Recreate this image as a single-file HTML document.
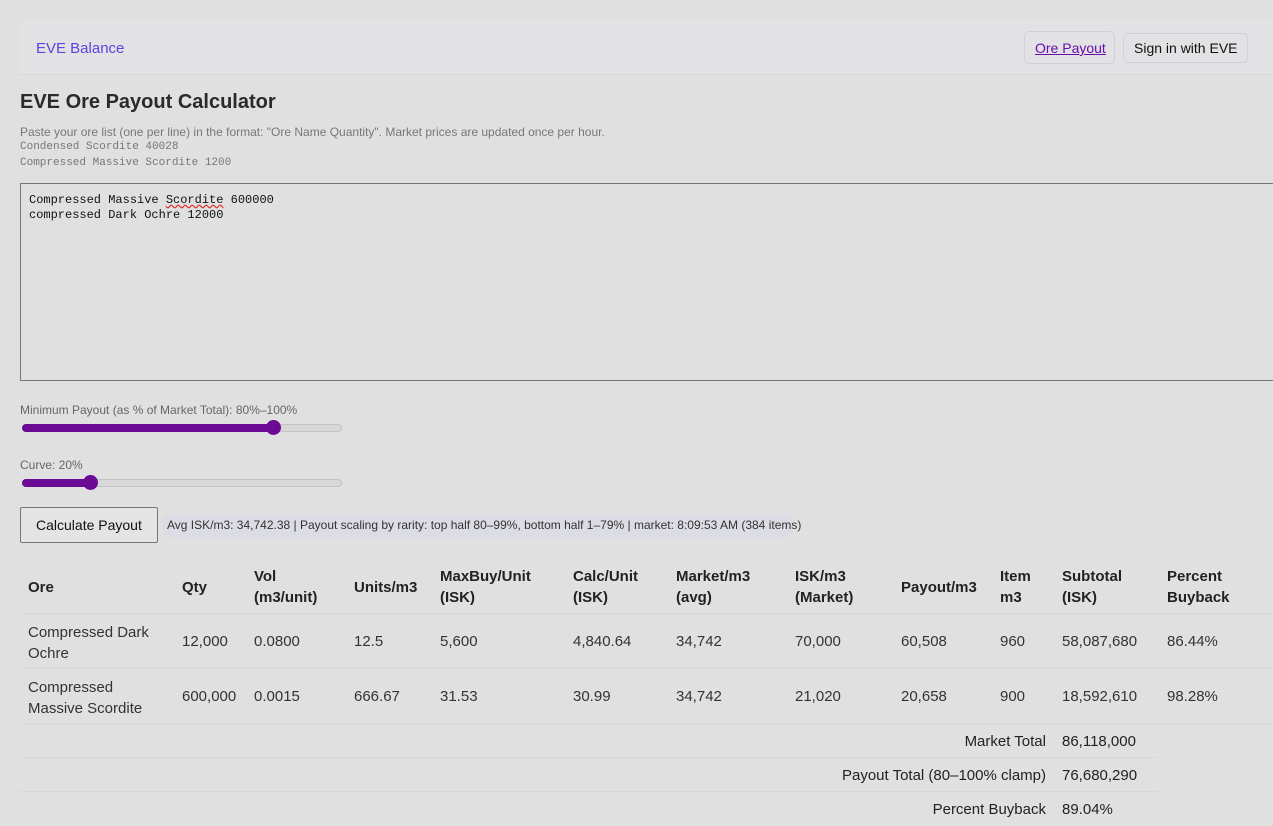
<!DOCTYPE html>
<html><head><meta charset="utf-8"><style>
*{margin:0;padding:0;box-sizing:border-box}
body{width:1273px;height:826px;background:#e0e0e0;font-family:"Liberation Sans",sans-serif;color:#222;position:relative;overflow:hidden}
.a{position:absolute;white-space:nowrap}
.nav{left:20px;top:20px;width:1253px;height:55px;background:#e2e2e4;border-bottom:1px solid #d6d6da}
.btn{border:1px solid #d0d0dc;border-radius:5px;background:#e2e2e4}
.mono{font-family:"Liberation Mono",monospace}
.th{font-weight:bold;font-size:15px;line-height:21px;color:#222}
.td{font-size:15px;line-height:20px;color:#333}
.hl{position:absolute;left:20px;height:1px;background:#d8d8d8}
.track{height:8px;border-radius:4px;background:#d8d8d8;border:1px solid #c4c4c4}
.fill{height:8px;border-radius:4px;background:#6a0a95}
.knob{width:15px;height:15px;border-radius:50%;background:#6a0a95}
</style></head><body>
<div class="a nav"></div>
<div class="a" style="left:36px;top:40px;font-size:15px;color:#5a45e0">EVE Balance</div>
<div class="a btn" style="left:1024px;top:31px;width:91px;height:33px"></div>
<div class="a" style="left:1035px;top:40px;font-size:14px;color:#6a0dad;text-decoration:underline">Ore Payout</div>
<div class="a btn" style="left:1123px;top:33px;width:125px;height:30px"></div>
<div class="a" style="left:1134px;top:40px;font-size:14px;color:#111">Sign in with EVE</div>

<div class="a" style="left:20px;top:91px;font-size:20px;font-weight:bold;color:#2a2a2a">EVE Ore Payout Calculator</div>
<div class="a" style="left:20px;top:125px;font-size:12px;color:#777">Paste your ore list (one per line) in the format: "Ore Name Quantity". Market prices are updated once per hour.</div>
<div class="a mono" style="left:20px;top:141px;font-size:11px;color:#777">Condensed Scordite 40028</div>
<div class="a mono" style="left:20px;top:157px;font-size:11px;color:#777">Compressed Massive Scordite 1200</div>

<div class="a" style="left:20px;top:183px;width:1260px;height:198px;border:1px solid #777;background:#e0e0e0"></div>
<div class="a mono" style="left:29px;top:193px;font-size:12px;line-height:15px;color:#111">Compressed Massive <span style="text-decoration:underline wavy #e03030">Scordite</span> 600000<br>compressed Dark Ochre 12000</div>

<div class="a" style="left:20px;top:403px;font-size:12px;color:#666">Minimum Payout (as % of Market Total): 80%–100%</div>
<div class="a track" style="left:22px;top:424px;width:320px"></div>
<div class="a fill" style="left:22px;top:424px;width:252px"></div>
<div class="a knob" style="left:266px;top:420px"></div>

<div class="a" style="left:20px;top:458px;font-size:12px;color:#666">Curve: 20%</div>
<div class="a track" style="left:22px;top:479px;width:320px"></div>
<div class="a fill" style="left:22px;top:479px;width:68px"></div>
<div class="a knob" style="left:83px;top:475px"></div>

<div class="a" style="left:20px;top:507px;width:138px;height:36px;border:1px solid #777;border-radius:2px;background:#e4e4e4"></div>
<div class="a" style="left:36px;top:517px;font-size:14px;color:#111">Calculate Payout</div>
<div class="a" style="left:163px;top:514px;width:630px;height:24px;border-radius:8px;background:#dcdce4"></div>
<div class="a" style="left:167px;top:518px;font-size:12px;color:#333">Avg ISK/m3: 34,742.38 | Payout scaling by rarity: top half 80–99%, bottom half 1–79% | market: 8:09:53 AM (384 items)</div>

<div class="a th" style="left:28px;top:577px">Ore</div>
<div class="a th" style="left:182px;top:577px">Qty</div>
<div class="a th" style="left:254px;top:566px">Vol<br>(m3/unit)</div>
<div class="a th" style="left:354px;top:577px">Units/m3</div>
<div class="a th" style="left:440px;top:566px">MaxBuy/Unit<br>(ISK)</div>
<div class="a th" style="left:573px;top:566px">Calc/Unit<br>(ISK)</div>
<div class="a th" style="left:676px;top:566px">Market/m3<br>(avg)</div>
<div class="a th" style="left:795px;top:566px">ISK/m3<br>(Market)</div>
<div class="a th" style="left:901px;top:577px">Payout/m3</div>
<div class="a th" style="left:1000px;top:566px">Item<br>m3</div>
<div class="a th" style="left:1062px;top:566px">Subtotal<br>(ISK)</div>
<div class="a th" style="left:1167px;top:566px">Percent<br>Buyback</div>
<div class="hl" style="top:613px;width:1253px"></div>

<div class="a td" style="left:28px;top:622px;line-height:21px">Compressed Dark<br>Ochre</div>
<div class="a td" style="left:182px;top:632px">12,000</div>
<div class="a td" style="left:254px;top:632px">0.0800</div>
<div class="a td" style="left:354px;top:632px">12.5</div>
<div class="a td" style="left:440px;top:632px">5,600</div>
<div class="a td" style="left:573px;top:632px">4,840.64</div>
<div class="a td" style="left:676px;top:632px">34,742</div>
<div class="a td" style="left:795px;top:632px">70,000</div>
<div class="a td" style="left:901px;top:632px">60,508</div>
<div class="a td" style="left:1000px;top:632px">960</div>
<div class="a td" style="left:1062px;top:632px">58,087,680</div>
<div class="a td" style="left:1167px;top:632px">86.44%</div>
<div class="hl" style="top:668px;width:1253px"></div>

<div class="a td" style="left:28px;top:677px;line-height:21px">Compressed<br>Massive Scordite</div>
<div class="a td" style="left:182px;top:687px">600,000</div>
<div class="a td" style="left:254px;top:687px">0.0015</div>
<div class="a td" style="left:354px;top:687px">666.67</div>
<div class="a td" style="left:440px;top:687px">31.53</div>
<div class="a td" style="left:573px;top:687px">30.99</div>
<div class="a td" style="left:676px;top:687px">34,742</div>
<div class="a td" style="left:795px;top:687px">21,020</div>
<div class="a td" style="left:901px;top:687px">20,658</div>
<div class="a td" style="left:1000px;top:687px">900</div>
<div class="a td" style="left:1062px;top:687px">18,592,610</div>
<div class="a td" style="left:1167px;top:687px">98.28%</div>
<div class="hl" style="top:723px;width:1253px"></div>

<div class="a td" style="right:227px;top:732px;color:#222">Market Total</div>
<div class="a td" style="left:1062px;top:732px;color:#222">86,118,000</div>
<div class="hl" style="top:757px;width:1138px"></div>
<div class="a td" style="right:227px;top:766px;color:#222">Payout Total (80–100% clamp)</div>
<div class="a td" style="left:1062px;top:766px;color:#222">76,680,290</div>
<div class="hl" style="top:791px;width:1138px"></div>
<div class="a td" style="right:227px;top:800px;color:#222">Percent Buyback</div>
<div class="a td" style="left:1062px;top:800px;color:#222">89.04%</div>
</body></html>
